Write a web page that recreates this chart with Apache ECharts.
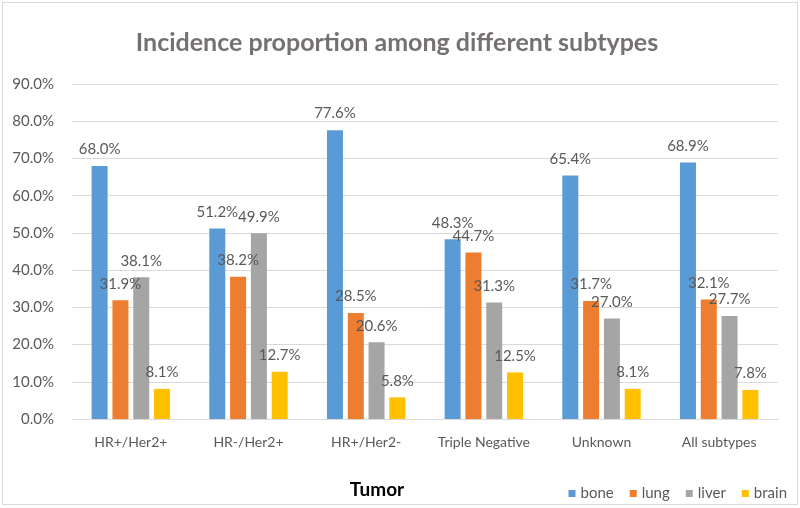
<!DOCTYPE html>
<html><head><meta charset="utf-8">
<script src="https://cdn.jsdelivr.net/npm/echarts@6/dist/echarts.min.js"></script>
<style>html,body{margin:0;padding:0;background:#fff}#c{width:800px;height:508px}</style>
</head><body><div id="c"></div>
<script>
const categories = ['HR+/Her2+', 'HR-/Her2+', 'HR+/Her2-', 'Triple Negative', 'Unknown', 'All subtypes'];
const bone  = [68.0, 51.2, 77.6, 48.3, 65.4, 68.9];
const lung  = [31.9, 38.2, 28.5, 44.7, 31.7, 32.1];
const liver = [38.1, 49.9, 20.6, 31.3, 27.0, 27.7];
const brain = [8.1, 12.7, 5.8, 12.5, 8.1, 7.8];
const seriesNames = ['bone', 'lung', 'liver', 'brain'];
const colors = ['#5b9bd5', '#ed7d31', '#a5a5a5', '#ffc000'];
const FONT = 'Lato';
const chart = echarts.init(document.getElementById('c'), null, {renderer: 'canvas'});
const mk = (name, data, i) => ({
  name, type: 'bar', data, barWidth: 16, barGap: '30%',
  itemStyle: {color: colors[i]},
  label: {show: true, position: 'top', distance: 9, color: '#595959', fontFamily: FONT, fontSize: 15,
    formatter: p => p.value.toFixed(1) + '%'}
});
chart.setOption({
  animation: false,
  textStyle: {fontFamily: FONT},
  title: [
    {text: 'Incidence proportion among different subtypes', left: 392, top: 25, textAlign: 'center',
     textStyle: {fontFamily: FONT, fontSize: 25, fontWeight: 'bold', color: '#757171'}},
    {text: 'Tumor', left: 372, top: 475, textAlign: 'center',
     textStyle: {fontFamily: FONT, fontSize: 19, fontWeight: 'bold', color: '#000'}}
  ],
  legend: {data: seriesNames, right: 8, top: 481, itemWidth: 7, itemHeight: 7, itemGap: 16,
    icon: 'rect', textStyle: {fontFamily: FONT, fontSize: 15, color: '#595959'}},
  grid: {left: 72, right: 22, top: 84, bottom: 89, containLabel: false},
  xAxis: {type: 'category', data: categories,
    axisLine: {lineStyle: {color: '#d9d9d9'}}, axisTick: {show: false},
    axisLabel: {color: '#595959', fontFamily: FONT, fontSize: 14, margin: 16, interval: 0}},
  yAxis: {type: 'value', min: 0, max: 90, interval: 10,
    axisLine: {show: false}, axisTick: {show: false},
    splitLine: {lineStyle: {color: '#d9d9d9'}},
    axisLabel: {color: '#595959', fontFamily: FONT, fontSize: 15, margin: 18,
      formatter: v => v.toFixed(1) + '%'}},
  graphic: [{type: 'rect', shape: {x: 2.5, y: 2.5, width: 795, height: 502},
    style: {fill: 'none', stroke: '#d9d9d9', lineWidth: 1}, silent: true}],
  series: [mk('bone', bone, 0), mk('lung', lung, 1), mk('liver', liver, 2), mk('brain', brain, 3)]
});
</script></body></html>
